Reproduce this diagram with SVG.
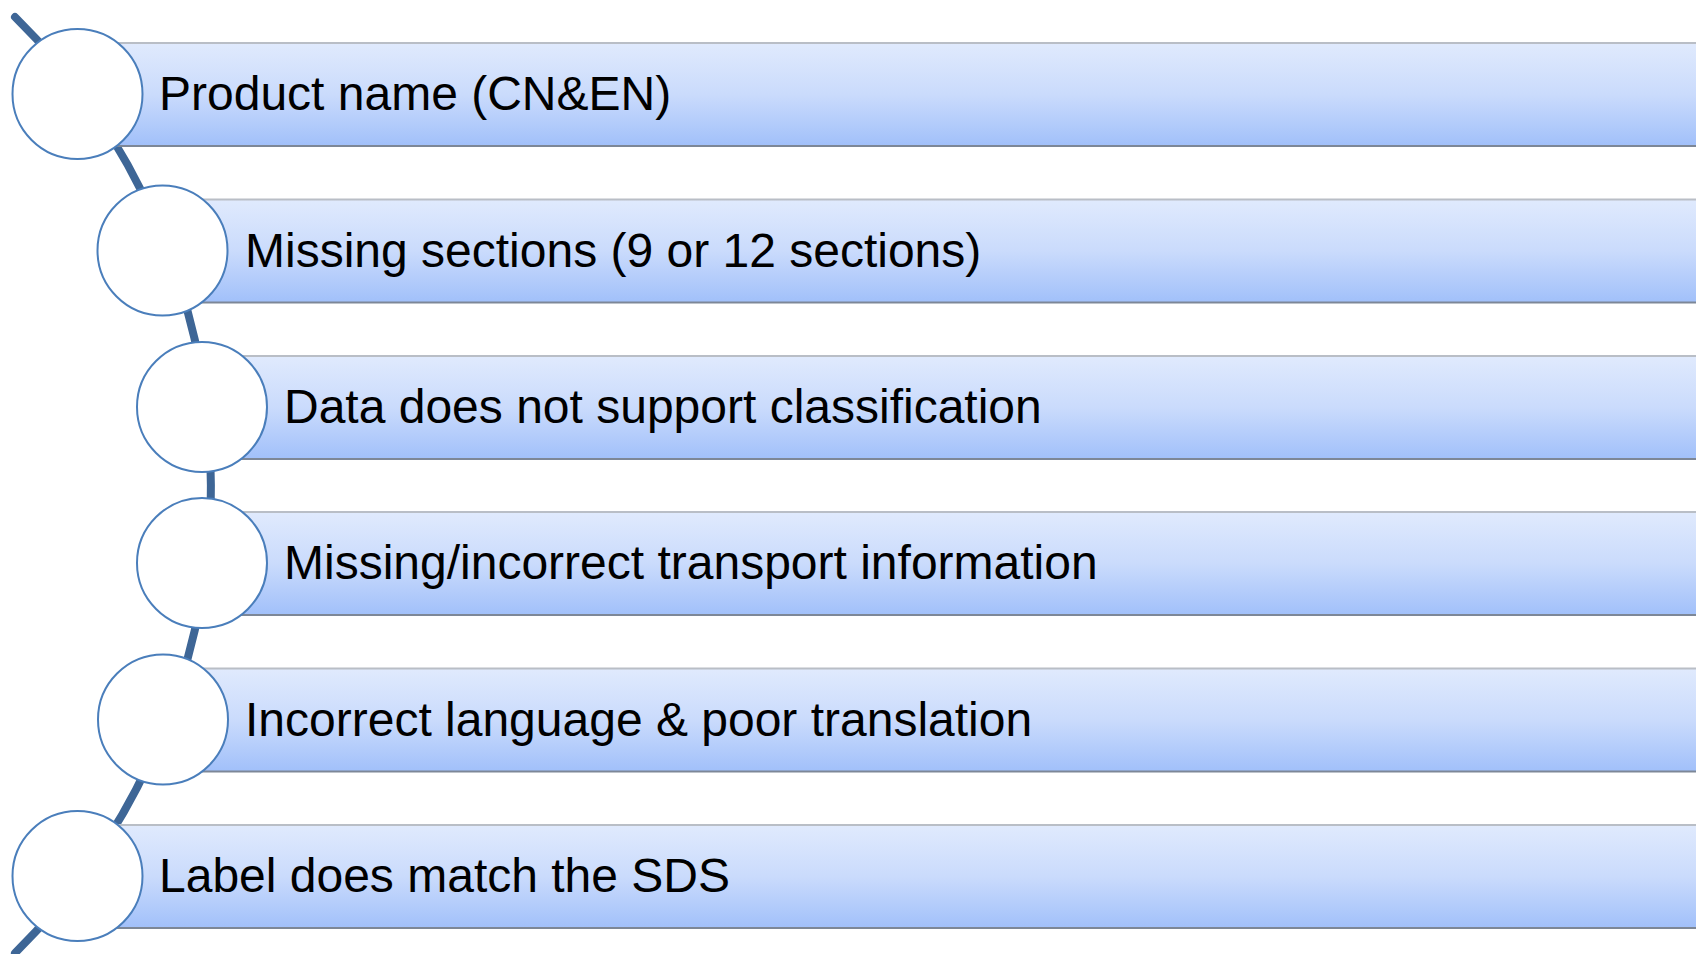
<svg xmlns="http://www.w3.org/2000/svg" width="1696" height="954" viewBox="0 0 1696 954">
<defs>
<linearGradient id="bar" x1="0" y1="0" x2="0" y2="1">
<stop offset="0" stop-color="#e0eafd"/>
<stop offset="0.5" stop-color="#cadbfc"/>
<stop offset="1" stop-color="#a1c0fa"/>
</linearGradient>
</defs>
<style>
.bar{fill:url(#bar)}
.topl{stroke:#b9bec6;stroke-width:2}
.botl{stroke:#7d8797;stroke-width:2}
.c{fill:#ffffff;stroke:#4a7ebb;stroke-width:2}
.t{font-family:"Liberation Sans",Arial,sans-serif;font-size:48px;fill:#000000}
.arc{fill:none;stroke:#3e6696;stroke-width:8;stroke-linecap:round}
</style>
<rect width="1696" height="954" fill="#ffffff"/>
<g id="connectors">
<path class="arc" d="M 15 17 A 657 657 0 0 1 15 953"/>
</g>
<g id="node1">
<rect class="bar" x="78" y="43" width="1618" height="103"/>
<line class="topl" x1="78" y1="43" x2="1696" y2="43"/>
<line class="botl" x1="78" y1="146" x2="1696" y2="146"/>
<circle class="c" cx="77.5" cy="94" r="65"/>
<text class="t" x="159" y="110">Product name (CN&amp;EN)</text>
</g>
<g id="node2">
<rect class="bar" x="163" y="199.5" width="1533" height="103"/>
<line class="topl" x1="163" y1="199.5" x2="1696" y2="199.5"/>
<line class="botl" x1="163" y1="302.5" x2="1696" y2="302.5"/>
<circle class="c" cx="162.5" cy="250.5" r="65"/>
<text class="t" x="245" y="266.5">Missing sections (9 or 12 sections)</text>
</g>
<g id="node3">
<rect class="bar" x="202" y="356" width="1494" height="103"/>
<line class="topl" x1="202" y1="356" x2="1696" y2="356"/>
<line class="botl" x1="202" y1="459" x2="1696" y2="459"/>
<circle class="c" cx="202" cy="407" r="65"/>
<text class="t" x="284" y="423">Data does not support classification</text>
</g>
<g id="node4">
<rect class="bar" x="202" y="512" width="1494" height="103"/>
<line class="topl" x1="202" y1="512" x2="1696" y2="512"/>
<line class="botl" x1="202" y1="615" x2="1696" y2="615"/>
<circle class="c" cx="202" cy="563" r="65"/>
<text class="t" x="284" y="579">Missing/incorrect transport information</text>
</g>
<g id="node5">
<rect class="bar" x="163" y="668.5" width="1533" height="103"/>
<line class="topl" x1="163" y1="668.5" x2="1696" y2="668.5"/>
<line class="botl" x1="163" y1="771.5" x2="1696" y2="771.5"/>
<circle class="c" cx="163" cy="719.5" r="65"/>
<text class="t" x="245" y="735.5">Incorrect language &amp; poor translation</text>
</g>
<g id="node6">
<rect class="bar" x="78" y="825" width="1618" height="103"/>
<line class="topl" x1="78" y1="825" x2="1696" y2="825"/>
<line class="botl" x1="78" y1="928" x2="1696" y2="928"/>
<circle class="c" cx="77.5" cy="876" r="65"/>
<text class="t" x="159" y="892">Label does match the SDS</text>
</g>
</svg>
